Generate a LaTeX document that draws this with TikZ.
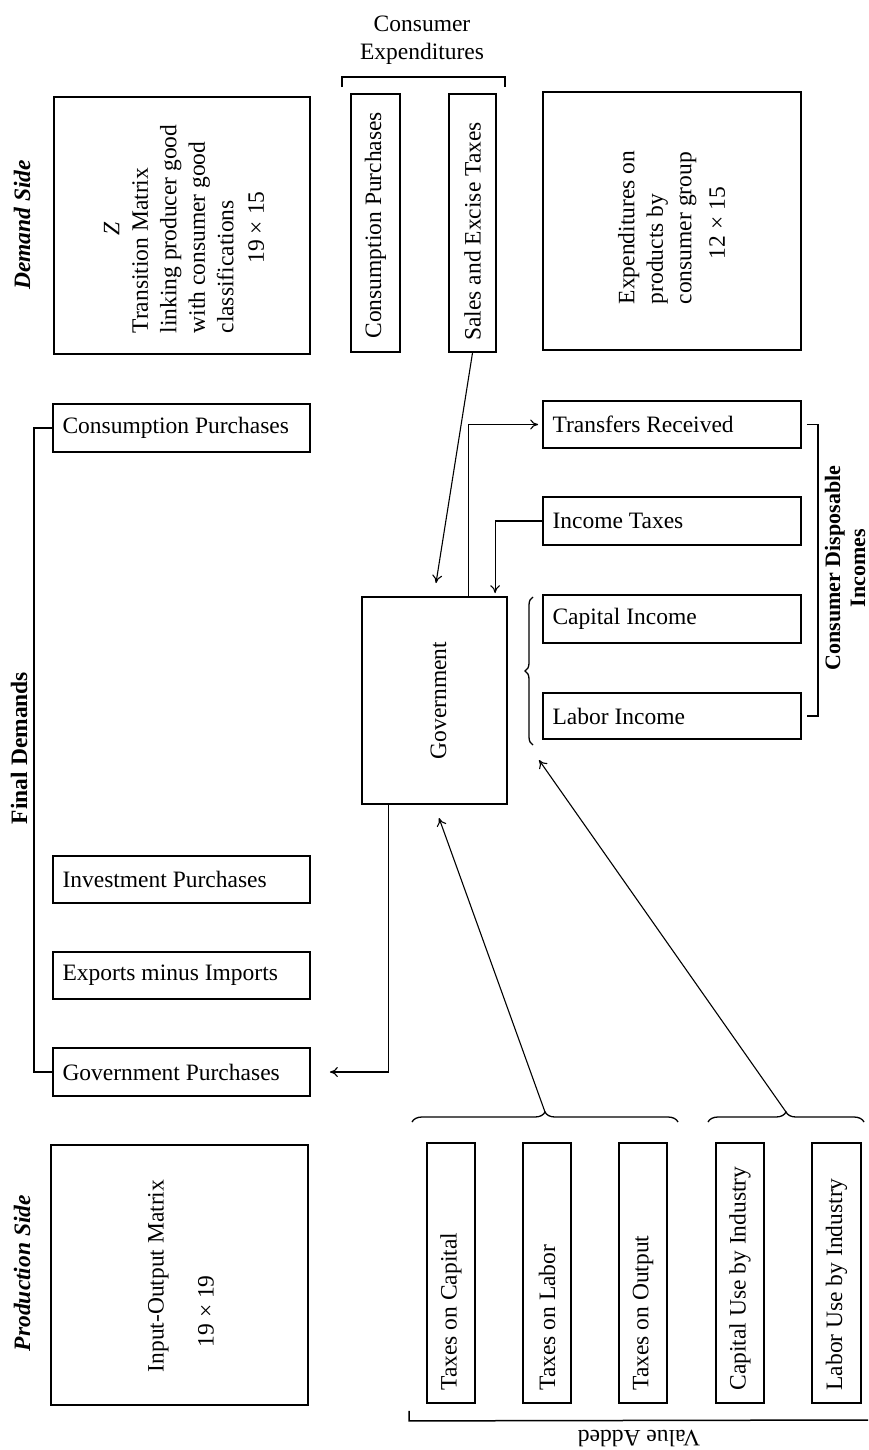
\documentclass[tikz,border=0pt]{standalone}
\usepackage{fontspec}
\setmainfont{Liberation Serif}
\usetikzlibrary{calc,fit,decorations.pathreplacing,arrows.meta}
\newcommand\myfs{\fontsize{11.75pt}{14.25pt}\selectfont}
\begin{document}
\begin{tikzpicture}[x=0.5pt,y=-0.5pt,
  box/.style={draw, line width=0.9pt, inner sep=0pt},
  txt/.style={font=\myfs, inner sep=0pt},
  rot/.style={txt, rotate=90},
  arr/.style={line width=0.55pt, -{To[length=4pt,width=5pt]}},
  brk/.style={line width=0.75pt},
  brc/.style={line width=0.65pt, decorate, decoration={brace, amplitude=5pt}},
]
\useasboundingbox (0,0) rectangle (868,1450);

% ---- boxes
\node[box, fit={(54,97) (310,354)}] (z) {};
\node[box, fit={(351,94) (400,352)}] (cp1) {};
\node[box, fit={(449,94) (496,352)}] (sales) {};
\node[box, fit={(543,92) (801,350)}] (exp) {};
\node[box, fit={(53,404) (310,452)}] (cp2) {};
\node[box, fit={(543,401) (801,448)}] (trans) {};
\node[box, fit={(543,497) (801,545)}] (inctax) {};
\node[box, fit={(362,597) (507,804)}] (gov) {};
\node[box, fit={(543,595) (801,643)}] (capinc) {};
\node[box, fit={(543,693) (801,739)}] (labinc) {};
\node[box, fit={(53,856) (310,903)}] (inv) {};
\node[box, fit={(53,952) (310,999)}] (exim) {};
\node[box, fit={(53,1048) (310,1096)}] (govp) {};
\node[box, fit={(51,1145) (308,1405)}] (io) {};
\node[box, fit={(427,1143) (475,1403)}] (tcap) {};
\node[box, fit={(523,1143) (571,1403)}] (tlab) {};
\node[box, fit={(619,1143) (667,1403)}] (tout) {};
\node[box, fit={(716,1143) (764,1403)}] (capuse) {};
\node[box, fit={(812,1143) (861,1403)}] (labuse) {};

% ---- labels outside boxes
\node[txt, align=center] (cetxt) at (422,40) {Consumer\\Expenditures};
\node[rot, font=\myfs\bfseries\itshape] (dstxt) at (22,225) {Demand Side};
\node[rot, font=\myfs\bfseries\itshape] (pstxt) at (22,1273) {Production Side};
\node[rot, font=\myfs\bfseries] (fdtxt) at (19,748) {Final Demands};
\node[rot, font=\fontsize{11pt}{12.5pt}\selectfont\bfseries, align=center] (cdtxt) at (845,568) {Consumer Disposable\\Incomes};
\node[txt, rotate=180] (vatxt) at (639,1438) {Value Added};

% ---- texts in big boxes
\node[rot] (ztxt) at (186,229) {\begin{tabular}{@{}l@{}}\multicolumn{1}{@{}c@{}}{\textit{Z}}\\Transition Matrix\\linking producer good\\with consumer good\\classifications\\[1pt]\hspace*{35pt}19 × 15\end{tabular}};
\node[rot] (exptxt) at (674,227.5) {\begin{tabular}{@{}l@{}}Expenditures on\\products by\\consumer group\\[2.5pt]\hspace*{22.5pt}12 × 15\end{tabular}};
\node[rot] (iotxt) at (183,1276) {\begin{tabular}{@{}l@{}}Input-Output Matrix\\[10.75pt]\hspace*{12.5pt}19 × 19\end{tabular}};
\node[rot] (govtxt) at ($(gov.center)+(4,0)$) {Government};

% ---- rotated texts in narrow boxes
\node[rot, anchor=west] (cp1txt) at ($(cp1.south)+(0,-14)$) {Consumption Purchases};
\node[rot, anchor=west] (salestxt) at ($(sales.south)+(0,-12)$) {Sales and Excise Taxes};
\node[rot, anchor=west] (tcaptxt) at ($(tcap.south)+(0,-13)$) {Taxes on Capital};
\node[rot, anchor=west] (tlabtxt) at ($(tlab.south)+(0,-13)$) {Taxes on Labor};
\node[rot, anchor=west] (touttxt) at ($(tout.south)+(0,-13)$) {Taxes on Output};
\node[rot, anchor=west] (capusetxt) at ($(capuse.south)+(0,-13)$) {Capital Use by Industry};
\node[rot, anchor=west] (labusetxt) at ($(labuse.south)+(0,-13)$) {Labor Use by Industry};

% ---- horizontal texts in boxes
\node[txt, anchor=west] (cp2txt) at ($(cp2.west)+(10,0)$) {Consumption Purchases};
\node[txt, anchor=west] (transtxt) at ($(trans.west)+(10,0)$) {Transfers Received};
\node[txt, anchor=west] (inctaxtxt) at ($(inctax.west)+(10,0)$) {Income Taxes};
\node[txt, anchor=west] (capinctxt) at ($(capinc.west)+(10,0)$) {Capital Income};
\node[txt, anchor=west] (labinctxt) at ($(labinc.west)+(10,0)$) {Labor Income};
\node[txt, anchor=west] (invtxt) at ($(inv.west)+(10,0)$) {Investment Purchases};
\node[txt, anchor=west] (eximtxt) at ($(exim.west)+(10,0)$) {Exports minus Imports};
\node[txt, anchor=west] (govptxt) at ($(govp.west)+(10,0)$) {Government Purchases};

% ---- brackets
\draw[brk] ($(cp1.north west)+(-8,-6)$) -- ++(0,-10) -| ($(sales.north east)+(8,-6)$);
\draw[brk] (cp2.west) -- ++(-18,0) |- (govp.west);
\draw[brk] ($(trans.east)+(5,0)$) -- ++(11,0) |- ($(labinc.east)+(5,0)$);
\draw[brk] ($(tcap.south west)+(-17,7)$) -- ++(0,10) -- (868,1420);

% ---- braces
\draw[brc] (412,1122) -- (678,1122);
\draw[brc] (708,1122) -- (864,1122);
\draw[brc, decoration={brace, amplitude=4pt}] (533,745) -- (533,597);
\coordinate (b1) at (545,1112);
\coordinate (b2) at (786,1112);
\coordinate (b3) at (539,760);
\coordinate (g1) at (436,583);
\coordinate (g2) at (439,818);

% ---- connectors
\draw[arr] (sales.south) -- (g1);
\draw[arr] ($(gov.north west)+(107,0)$) |- ([xshift=-2pt]trans.west);
\draw[arr] (inctax.west) -| ($(gov.north west)+(134,-3)$);
\draw[arr] ($(gov.south west)+(27,0)$) |- ([xshift=9.5pt]govp.east);
\draw[arr] (b1) -- (g2);
\draw[arr] (b2) -- (b3);
\end{tikzpicture}
\end{document}
